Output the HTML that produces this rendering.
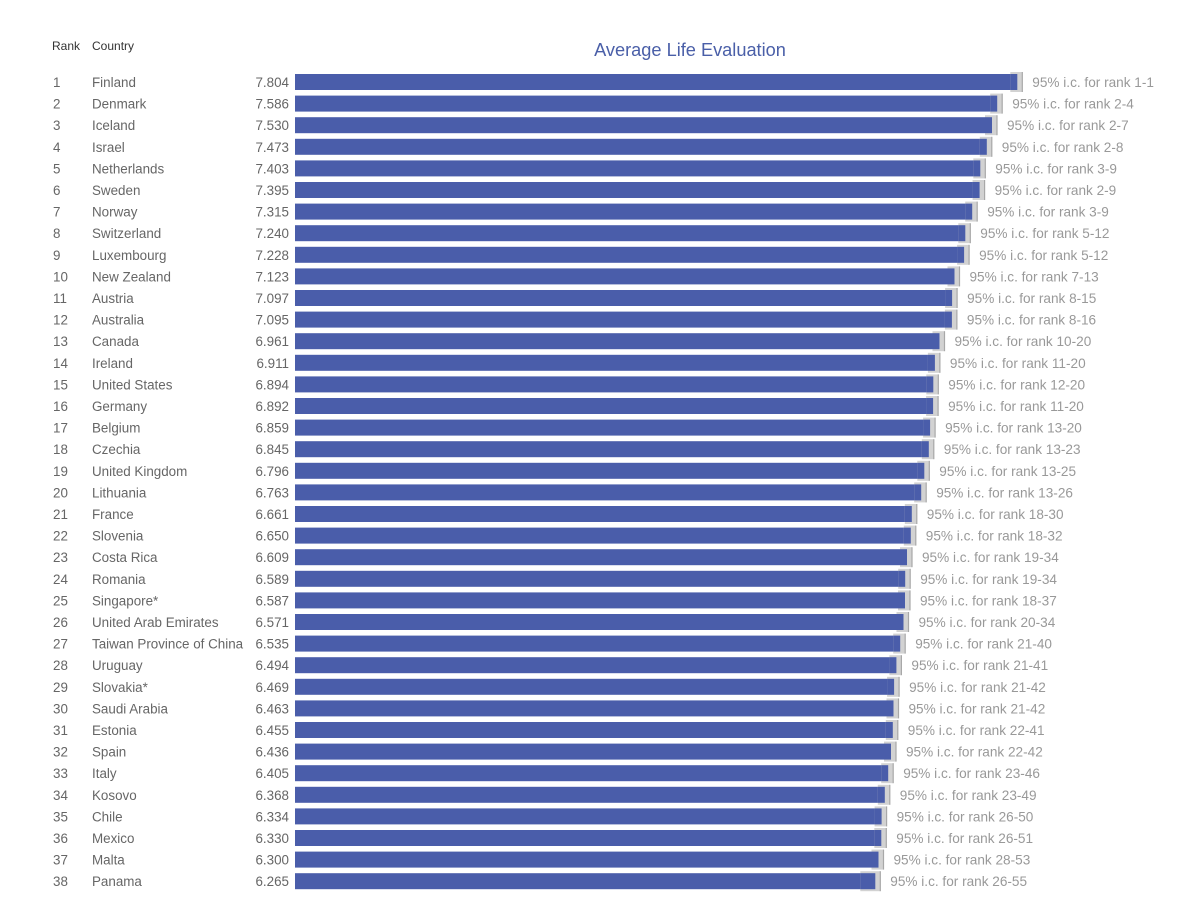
<!DOCTYPE html>
<html><head><meta charset="utf-8"><style>
html,body{margin:0;padding:0;background:#fff;}
svg{display:block;font-family:"Liberation Sans",sans-serif;}
.r{font-size:13.4px;fill:#666;}
.v{font-size:13.4px;fill:#666;text-anchor:end;}
.l{font-size:13.6px;fill:#999;}
.b{fill:#4a5daa;}
.ci{fill:#d2d2d2;}
.cl{stroke:#a8a8a8;stroke-width:1.2;}
</style></head><body>
<svg width="1200" height="897" viewBox="0 0 1200 897">
<text x="52" y="50" font-size="12" fill="#333">Rank</text>
<text x="92" y="50" font-size="12" fill="#333">Country</text>
<text x="690" y="56" font-size="18.2" fill="#4a5fa8" text-anchor="middle">Average Life Evaluation</text>
<g id="rows">
<g transform="translate(0,82)"><text class="r" x="53" y="5">1</text><text class="r" x="92" y="5">Finland</text><text class="v" x="289" y="5">7.804</text><rect class="b" x="295" y="-8" width="722.3" height="16"/><rect class="ci" x="1010.3" y="-10" width="12" height="20"/><rect class="b" x="1010.3" y="-8" width="7" height="16"/><line class="cl" x1="1022.3" y1="-10" x2="1022.3" y2="10"/><text class="l" x="1032.3" y="5">95% i.c. for rank 1-1</text></g>
<g transform="translate(0,103.6)"><text class="r" x="53" y="5">2</text><text class="r" x="92" y="5">Denmark</text><text class="v" x="289" y="5">7.586</text><rect class="b" x="295" y="-8" width="702.2" height="16"/><rect class="ci" x="990.2" y="-10" width="12" height="20"/><rect class="b" x="990.2" y="-8" width="7" height="16"/><line class="cl" x1="1002.2" y1="-10" x2="1002.2" y2="10"/><text class="l" x="1012.2" y="5">95% i.c. for rank 2-4</text></g>
<g transform="translate(0,125.2)"><text class="r" x="53" y="5">3</text><text class="r" x="92" y="5">Iceland</text><text class="v" x="289" y="5">7.530</text><rect class="b" x="295" y="-8" width="697" height="16"/><rect class="ci" x="985" y="-10" width="12" height="20"/><rect class="b" x="985" y="-8" width="7" height="16"/><line class="cl" x1="997" y1="-10" x2="997" y2="10"/><text class="l" x="1007" y="5">95% i.c. for rank 2-7</text></g>
<g transform="translate(0,146.8)"><text class="r" x="53" y="5">4</text><text class="r" x="92" y="5">Israel</text><text class="v" x="289" y="5">7.473</text><rect class="b" x="295" y="-8" width="691.8" height="16"/><rect class="ci" x="979.8" y="-10" width="12" height="20"/><rect class="b" x="979.8" y="-8" width="7" height="16"/><line class="cl" x1="991.8" y1="-10" x2="991.8" y2="10"/><text class="l" x="1001.8" y="5">95% i.c. for rank 2-8</text></g>
<g transform="translate(0,168.4)"><text class="r" x="53" y="5">5</text><text class="r" x="92" y="5">Netherlands</text><text class="v" x="289" y="5">7.403</text><rect class="b" x="295" y="-8" width="685.3" height="16"/><rect class="ci" x="973.3" y="-10" width="12" height="20"/><rect class="b" x="973.3" y="-8" width="7" height="16"/><line class="cl" x1="985.3" y1="-10" x2="985.3" y2="10"/><text class="l" x="995.3" y="5">95% i.c. for rank 3-9</text></g>
<g transform="translate(0,190)"><text class="r" x="53" y="5">6</text><text class="r" x="92" y="5">Sweden</text><text class="v" x="289" y="5">7.395</text><rect class="b" x="295" y="-8" width="684.6" height="16"/><rect class="ci" x="972.6" y="-10" width="12" height="20"/><rect class="b" x="972.6" y="-8" width="7" height="16"/><line class="cl" x1="984.6" y1="-10" x2="984.6" y2="10"/><text class="l" x="994.6" y="5">95% i.c. for rank 2-9</text></g>
<g transform="translate(0,211.6)"><text class="r" x="53" y="5">7</text><text class="r" x="92" y="5">Norway</text><text class="v" x="289" y="5">7.315</text><rect class="b" x="295" y="-8" width="677.2" height="16"/><rect class="ci" x="965.2" y="-10" width="12" height="20"/><rect class="b" x="965.2" y="-8" width="7" height="16"/><line class="cl" x1="977.2" y1="-10" x2="977.2" y2="10"/><text class="l" x="987.2" y="5">95% i.c. for rank 3-9</text></g>
<g transform="translate(0,233.2)"><text class="r" x="53" y="5">8</text><text class="r" x="92" y="5">Switzerland</text><text class="v" x="289" y="5">7.240</text><rect class="b" x="295" y="-8" width="670.3" height="16"/><rect class="ci" x="958.3" y="-10" width="12" height="20"/><rect class="b" x="958.3" y="-8" width="7" height="16"/><line class="cl" x1="970.3" y1="-10" x2="970.3" y2="10"/><text class="l" x="980.3" y="5">95% i.c. for rank 5-12</text></g>
<g transform="translate(0,254.8)"><text class="r" x="53" y="5">9</text><text class="r" x="92" y="5">Luxembourg</text><text class="v" x="289" y="5">7.228</text><rect class="b" x="295" y="-8" width="669.1" height="16"/><rect class="ci" x="957.1" y="-10" width="12" height="20"/><rect class="b" x="957.1" y="-8" width="7" height="16"/><line class="cl" x1="969.1" y1="-10" x2="969.1" y2="10"/><text class="l" x="979.1" y="5">95% i.c. for rank 5-12</text></g>
<g transform="translate(0,276.4)"><text class="r" x="53" y="5">10</text><text class="r" x="92" y="5">New Zealand</text><text class="v" x="289" y="5">7.123</text><rect class="b" x="295" y="-8" width="659.5" height="16"/><rect class="ci" x="947.5" y="-10" width="12" height="20"/><rect class="b" x="947.5" y="-8" width="7" height="16"/><line class="cl" x1="959.5" y1="-10" x2="959.5" y2="10"/><text class="l" x="969.5" y="5">95% i.c. for rank 7-13</text></g>
<g transform="translate(0,298)"><text class="r" x="53" y="5">11</text><text class="r" x="92" y="5">Austria</text><text class="v" x="289" y="5">7.097</text><rect class="b" x="295" y="-8" width="657.1" height="16"/><rect class="ci" x="945.1" y="-10" width="12" height="20"/><rect class="b" x="945.1" y="-8" width="7" height="16"/><line class="cl" x1="957.1" y1="-10" x2="957.1" y2="10"/><text class="l" x="967.1" y="5">95% i.c. for rank 8-15</text></g>
<g transform="translate(0,319.6)"><text class="r" x="53" y="5">12</text><text class="r" x="92" y="5">Australia</text><text class="v" x="289" y="5">7.095</text><rect class="b" x="295" y="-8" width="656.9" height="16"/><rect class="ci" x="944.9" y="-10" width="12" height="20"/><rect class="b" x="944.9" y="-8" width="7" height="16"/><line class="cl" x1="956.9" y1="-10" x2="956.9" y2="10"/><text class="l" x="966.9" y="5">95% i.c. for rank 8-16</text></g>
<g transform="translate(0,341.2)"><text class="r" x="53" y="5">13</text><text class="r" x="92" y="5">Canada</text><text class="v" x="289" y="5">6.961</text><rect class="b" x="295" y="-8" width="644.5" height="16"/><rect class="ci" x="932.5" y="-10" width="12" height="20"/><rect class="b" x="932.5" y="-8" width="7" height="16"/><line class="cl" x1="944.5" y1="-10" x2="944.5" y2="10"/><text class="l" x="954.5" y="5">95% i.c. for rank 10-20</text></g>
<g transform="translate(0,362.8)"><text class="r" x="53" y="5">14</text><text class="r" x="92" y="5">Ireland</text><text class="v" x="289" y="5">6.911</text><rect class="b" x="295" y="-8" width="639.9" height="16"/><rect class="ci" x="927.9" y="-10" width="12" height="20"/><rect class="b" x="927.9" y="-8" width="7" height="16"/><line class="cl" x1="939.9" y1="-10" x2="939.9" y2="10"/><text class="l" x="949.9" y="5">95% i.c. for rank 11-20</text></g>
<g transform="translate(0,384.4)"><text class="r" x="53" y="5">15</text><text class="r" x="92" y="5">United States</text><text class="v" x="289" y="5">6.894</text><rect class="b" x="295" y="-8" width="638.3" height="16"/><rect class="ci" x="926.3" y="-10" width="12" height="20"/><rect class="b" x="926.3" y="-8" width="7" height="16"/><line class="cl" x1="938.3" y1="-10" x2="938.3" y2="10"/><text class="l" x="948.3" y="5">95% i.c. for rank 12-20</text></g>
<g transform="translate(0,406)"><text class="r" x="53" y="5">16</text><text class="r" x="92" y="5">Germany</text><text class="v" x="289" y="5">6.892</text><rect class="b" x="295" y="-8" width="638.1" height="16"/><rect class="ci" x="926.1" y="-10" width="12" height="20"/><rect class="b" x="926.1" y="-8" width="7" height="16"/><line class="cl" x1="938.1" y1="-10" x2="938.1" y2="10"/><text class="l" x="948.1" y="5">95% i.c. for rank 11-20</text></g>
<g transform="translate(0,427.6)"><text class="r" x="53" y="5">17</text><text class="r" x="92" y="5">Belgium</text><text class="v" x="289" y="5">6.859</text><rect class="b" x="295" y="-8" width="635.1" height="16"/><rect class="ci" x="923.1" y="-10" width="12" height="20"/><rect class="b" x="923.1" y="-8" width="7" height="16"/><line class="cl" x1="935.1" y1="-10" x2="935.1" y2="10"/><text class="l" x="945.1" y="5">95% i.c. for rank 13-20</text></g>
<g transform="translate(0,449.2)"><text class="r" x="53" y="5">18</text><text class="r" x="92" y="5">Czechia</text><text class="v" x="289" y="5">6.845</text><rect class="b" x="295" y="-8" width="633.8" height="16"/><rect class="ci" x="921.8" y="-10" width="12" height="20"/><rect class="b" x="921.8" y="-8" width="7" height="16"/><line class="cl" x1="933.8" y1="-10" x2="933.8" y2="10"/><text class="l" x="943.8" y="5">95% i.c. for rank 13-23</text></g>
<g transform="translate(0,470.8)"><text class="r" x="53" y="5">19</text><text class="r" x="92" y="5">United Kingdom</text><text class="v" x="289" y="5">6.796</text><rect class="b" x="295" y="-8" width="629.3" height="16"/><rect class="ci" x="917.3" y="-10" width="12" height="20"/><rect class="b" x="917.3" y="-8" width="7" height="16"/><line class="cl" x1="929.3" y1="-10" x2="929.3" y2="10"/><text class="l" x="939.3" y="5">95% i.c. for rank 13-25</text></g>
<g transform="translate(0,492.4)"><text class="r" x="53" y="5">20</text><text class="r" x="92" y="5">Lithuania</text><text class="v" x="289" y="5">6.763</text><rect class="b" x="295" y="-8" width="626.2" height="16"/><rect class="ci" x="914.2" y="-10" width="12" height="20"/><rect class="b" x="914.2" y="-8" width="7" height="16"/><line class="cl" x1="926.2" y1="-10" x2="926.2" y2="10"/><text class="l" x="936.2" y="5">95% i.c. for rank 13-26</text></g>
<g transform="translate(0,514)"><text class="r" x="53" y="5">21</text><text class="r" x="92" y="5">France</text><text class="v" x="289" y="5">6.661</text><rect class="b" x="295" y="-8" width="616.8" height="16"/><rect class="ci" x="904.8" y="-10" width="12" height="20"/><rect class="b" x="904.8" y="-8" width="7" height="16"/><line class="cl" x1="916.8" y1="-10" x2="916.8" y2="10"/><text class="l" x="926.8" y="5">95% i.c. for rank 18-30</text></g>
<g transform="translate(0,535.6)"><text class="r" x="53" y="5">22</text><text class="r" x="92" y="5">Slovenia</text><text class="v" x="289" y="5">6.650</text><rect class="b" x="295" y="-8" width="615.8" height="16"/><rect class="ci" x="903.8" y="-10" width="12" height="20"/><rect class="b" x="903.8" y="-8" width="7" height="16"/><line class="cl" x1="915.8" y1="-10" x2="915.8" y2="10"/><text class="l" x="925.8" y="5">95% i.c. for rank 18-32</text></g>
<g transform="translate(0,557.2)"><text class="r" x="53" y="5">23</text><text class="r" x="92" y="5">Costa Rica</text><text class="v" x="289" y="5">6.609</text><rect class="b" x="295" y="-8" width="612" height="16"/><rect class="ci" x="900" y="-10" width="12" height="20"/><rect class="b" x="900" y="-8" width="7" height="16"/><line class="cl" x1="912" y1="-10" x2="912" y2="10"/><text class="l" x="922" y="5">95% i.c. for rank 19-34</text></g>
<g transform="translate(0,578.8)"><text class="r" x="53" y="5">24</text><text class="r" x="92" y="5">Romania</text><text class="v" x="289" y="5">6.589</text><rect class="b" x="295" y="-8" width="610.2" height="16"/><rect class="ci" x="898.2" y="-10" width="12" height="20"/><rect class="b" x="898.2" y="-8" width="7" height="16"/><line class="cl" x1="910.2" y1="-10" x2="910.2" y2="10"/><text class="l" x="920.2" y="5">95% i.c. for rank 19-34</text></g>
<g transform="translate(0,600.4)"><text class="r" x="53" y="5">25</text><text class="r" x="92" y="5">Singapore*</text><text class="v" x="289" y="5">6.587</text><rect class="b" x="295" y="-8" width="610" height="16"/><rect class="ci" x="898" y="-10" width="12" height="20"/><rect class="b" x="898" y="-8" width="7" height="16"/><line class="cl" x1="910" y1="-10" x2="910" y2="10"/><text class="l" x="920" y="5">95% i.c. for rank 18-37</text></g>
<g transform="translate(0,622)"><text class="r" x="53" y="5">26</text><text class="r" x="92" y="5">United Arab Emirates</text><text class="v" x="289" y="5">6.571</text><rect class="b" x="295" y="-8" width="608.5" height="16"/><rect class="ci" x="896.5" y="-10" width="12" height="20"/><rect class="b" x="896.5" y="-8" width="7" height="16"/><line class="cl" x1="908.5" y1="-10" x2="908.5" y2="10"/><text class="l" x="918.5" y="5">95% i.c. for rank 20-34</text></g>
<g transform="translate(0,643.6)"><text class="r" x="53" y="5">27</text><text class="r" x="92" y="5">Taiwan Province of China</text><text class="v" x="289" y="5">6.535</text><rect class="b" x="295" y="-8" width="605.2" height="16"/><rect class="ci" x="893.2" y="-10" width="12" height="20"/><rect class="b" x="893.2" y="-8" width="7" height="16"/><line class="cl" x1="905.2" y1="-10" x2="905.2" y2="10"/><text class="l" x="915.2" y="5">95% i.c. for rank 21-40</text></g>
<g transform="translate(0,665.2)"><text class="r" x="53" y="5">28</text><text class="r" x="92" y="5">Uruguay</text><text class="v" x="289" y="5">6.494</text><rect class="b" x="295" y="-8" width="601.4" height="16"/><rect class="ci" x="889.4" y="-10" width="12" height="20"/><rect class="b" x="889.4" y="-8" width="7" height="16"/><line class="cl" x1="901.4" y1="-10" x2="901.4" y2="10"/><text class="l" x="911.4" y="5">95% i.c. for rank 21-41</text></g>
<g transform="translate(0,686.8)"><text class="r" x="53" y="5">29</text><text class="r" x="92" y="5">Slovakia*</text><text class="v" x="289" y="5">6.469</text><rect class="b" x="295" y="-8" width="599.1" height="16"/><rect class="ci" x="887.1" y="-10" width="12" height="20"/><rect class="b" x="887.1" y="-8" width="7" height="16"/><line class="cl" x1="899.1" y1="-10" x2="899.1" y2="10"/><text class="l" x="909.1" y="5">95% i.c. for rank 21-42</text></g>
<g transform="translate(0,708.4)"><text class="r" x="53" y="5">30</text><text class="r" x="92" y="5">Saudi Arabia</text><text class="v" x="289" y="5">6.463</text><rect class="b" x="295" y="-8" width="598.5" height="16"/><rect class="ci" x="886.5" y="-10" width="12" height="20"/><rect class="b" x="886.5" y="-8" width="7" height="16"/><line class="cl" x1="898.5" y1="-10" x2="898.5" y2="10"/><text class="l" x="908.5" y="5">95% i.c. for rank 21-42</text></g>
<g transform="translate(0,730)"><text class="r" x="53" y="5">31</text><text class="r" x="92" y="5">Estonia</text><text class="v" x="289" y="5">6.455</text><rect class="b" x="295" y="-8" width="597.8" height="16"/><rect class="ci" x="885.8" y="-10" width="12" height="20"/><rect class="b" x="885.8" y="-8" width="7" height="16"/><line class="cl" x1="897.8" y1="-10" x2="897.8" y2="10"/><text class="l" x="907.8" y="5">95% i.c. for rank 22-41</text></g>
<g transform="translate(0,751.6)"><text class="r" x="53" y="5">32</text><text class="r" x="92" y="5">Spain</text><text class="v" x="289" y="5">6.436</text><rect class="b" x="295" y="-8" width="596" height="16"/><rect class="ci" x="884" y="-10" width="12" height="20"/><rect class="b" x="884" y="-8" width="7" height="16"/><line class="cl" x1="896" y1="-10" x2="896" y2="10"/><text class="l" x="906" y="5">95% i.c. for rank 22-42</text></g>
<g transform="translate(0,773.2)"><text class="r" x="53" y="5">33</text><text class="r" x="92" y="5">Italy</text><text class="v" x="289" y="5">6.405</text><rect class="b" x="295" y="-8" width="593.2" height="16"/><rect class="ci" x="881.2" y="-10" width="12" height="20"/><rect class="b" x="881.2" y="-8" width="7" height="16"/><line class="cl" x1="893.2" y1="-10" x2="893.2" y2="10"/><text class="l" x="903.2" y="5">95% i.c. for rank 23-46</text></g>
<g transform="translate(0,794.8)"><text class="r" x="53" y="5">34</text><text class="r" x="92" y="5">Kosovo</text><text class="v" x="289" y="5">6.368</text><rect class="b" x="295" y="-8" width="589.8" height="16"/><rect class="ci" x="877.8" y="-10" width="12" height="20"/><rect class="b" x="877.8" y="-8" width="7" height="16"/><line class="cl" x1="889.8" y1="-10" x2="889.8" y2="10"/><text class="l" x="899.8" y="5">95% i.c. for rank 23-49</text></g>
<g transform="translate(0,816.4)"><text class="r" x="53" y="5">35</text><text class="r" x="92" y="5">Chile</text><text class="v" x="289" y="5">6.334</text><rect class="b" x="295" y="-8" width="586.6" height="16"/><rect class="ci" x="874.6" y="-10" width="12" height="20"/><rect class="b" x="874.6" y="-8" width="7" height="16"/><line class="cl" x1="886.6" y1="-10" x2="886.6" y2="10"/><text class="l" x="896.6" y="5">95% i.c. for rank 26-50</text></g>
<g transform="translate(0,838)"><text class="r" x="53" y="5">36</text><text class="r" x="92" y="5">Mexico</text><text class="v" x="289" y="5">6.330</text><rect class="b" x="295" y="-8" width="586.3" height="16"/><rect class="ci" x="874.3" y="-10" width="12" height="20"/><rect class="b" x="874.3" y="-8" width="7" height="16"/><line class="cl" x1="886.3" y1="-10" x2="886.3" y2="10"/><text class="l" x="896.3" y="5">95% i.c. for rank 26-51</text></g>
<g transform="translate(0,859.6)"><text class="r" x="53" y="5">37</text><text class="r" x="92" y="5">Malta</text><text class="v" x="289" y="5">6.300</text><rect class="b" x="295" y="-8" width="583.5" height="16"/><rect class="ci" x="871.5" y="-10" width="12" height="20"/><rect class="b" x="871.5" y="-8" width="7" height="16"/><line class="cl" x1="883.5" y1="-10" x2="883.5" y2="10"/><text class="l" x="893.5" y="5">95% i.c. for rank 28-53</text></g>
<g transform="translate(0,881.2)"><text class="r" x="53" y="5">38</text><text class="r" x="92" y="5">Panama</text><text class="v" x="289" y="5">6.265</text><rect class="b" x="295" y="-8" width="580.3" height="16"/><rect class="ci" x="860.3" y="-10" width="20" height="20"/><rect class="b" x="860.3" y="-8" width="15" height="16"/><line class="cl" x1="880.3" y1="-10" x2="880.3" y2="10"/><text class="l" x="890.3" y="5">95% i.c. for rank 26-55</text></g>
</g>
</svg>
</body></html>
